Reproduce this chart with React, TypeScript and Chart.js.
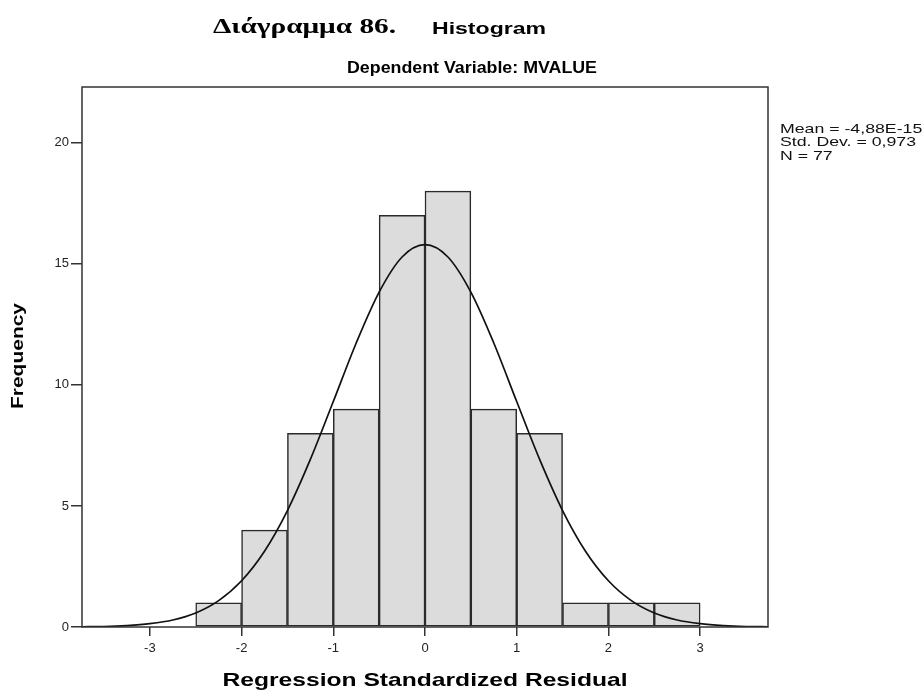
import React, { useEffect, useRef } from "react";
import { Chart, registerables } from "chart.js";

Chart.register(...registerables);

const binCenters = [-2.25, -1.75, -1.25, -0.75, -0.25, 0.25, 0.75, 1.25, 1.75, 2.25, 2.75];
const frequencies = [1, 4, 8, 9, 17, 18, 9, 8, 1, 1, 1];
const curveX = [-3.75, -3.5, -3.25, -3, -2.75, -2.5, -2.25, -2, -1.75, -1.5, -1.25, -1, -0.75, -0.5, -0.25, 0, 0.25, 0.5, 0.75, 1, 1.25, 1.5, 1.75, 2, 2.25, 2.5, 2.75, 3, 3.25, 3.5, 3.75];
const curveY = [0.01, 0.02, 0.06, 0.14, 0.29, 0.58, 1.09, 1.91, 3.13, 4.81, 6.92, 9.31, 11.73, 13.83, 15.28, 15.79, 15.28, 13.83, 11.73, 9.31, 6.92, 4.81, 3.13, 1.91, 1.09, 0.58, 0.29, 0.14, 0.06, 0.02, 0.01];
const yTicks = [0, 5, 10, 15, 20];
const xTicks = [-3, -2, -1, 0, 1, 2, 3];
const statsLines = ["Mean = -4,88E-15", "Std. Dev. = 0,973", "N = 77"];
const captionLabel = "Διάγραμμα 86.";
const captionTitle = "Histogram";
const subTitle = "Dependent Variable: MVALUE";
const xTitle = "Regression Standardized Residual";
const yTitle = "Frequency";

const SANS = "'Liberation Sans', Arial, sans-serif";
const SERIF = "'Liberation Serif', 'Times New Roman', serif";

function drawFit(ctx: CanvasRenderingContext2D, text: string, x: number, y: number, font: string, width: number, align: CanvasTextAlign) {
  ctx.save();
  ctx.font = font;
  const w = ctx.measureText(text).width;
  const sx = width / w;
  ctx.translate(x, y);
  ctx.scale(sx, 1);
  ctx.textAlign = align;
  ctx.textBaseline = "middle";
  ctx.fillText(text, 0, 0);
  ctx.restore();
}

export default function App() {
  const ref = useRef<HTMLCanvasElement | null>(null);

  useEffect(() => {
    document.body.style.margin = "0";
    const canvas = ref.current;
    if (!canvas) return;

    const textPlugin = {
      id: "textPlugin",
      afterDraw(chart: any) {
        const ctx = chart.ctx as CanvasRenderingContext2D;
        const a = chart.chartArea;
        ctx.save();
        ctx.strokeStyle = "#333";
        ctx.lineWidth = 1.5;
        ctx.strokeRect(a.left, a.top, a.right - a.left, a.bottom - a.top);

        ctx.fillStyle = "#000";
        drawFit(ctx, captionLabel, 213, 28, `bold 21px ${SERIF}`, 183, "left");
        drawFit(ctx, captionTitle, 432, 29, `bold 17px ${SANS}`, 114, "left");
        drawFit(ctx, subTitle, 347, 68, `bold 17px ${SANS}`, 250, "left");
        drawFit(ctx, xTitle, (a.left + a.right) / 2, 681, `bold 19px ${SANS}`, 405, "center");

        ctx.save();
        ctx.translate(18, 356);
        ctx.rotate(-Math.PI / 2);
        drawFit(ctx, yTitle, 0, 0, `bold 17px ${SANS}`, 106, "center");
        ctx.restore();

        ctx.fillStyle = "#111";
        ctx.font = `13px ${SANS}`;
        const sx = 136 / ctx.measureText(statsLines[1]).width;
        statsLines.forEach((s, i) => {
          ctx.save();
          ctx.font = `13px ${SANS}`;
          ctx.translate(780, 129 + i * 13.5);
          ctx.scale(sx, 1);
          ctx.textAlign = "left";
          ctx.textBaseline = "middle";
          ctx.fillText(s, 0, 0);
          ctx.restore();
        });
        ctx.restore();
      },
    };

    const chart = new Chart(canvas, {
      type: "bar",
      data: {
        datasets: [
          {
            type: "bar",
            data: binCenters.map((x, i) => ({ x, y: frequencies[i] })),
            backgroundColor: "#dcdcdc",
            borderColor: "#2a2a2a",
            borderWidth: 1.5,
            borderSkipped: false,
            barPercentage: 1,
            categoryPercentage: 1,
            order: 1,
          } as any,
          {
            type: "line",
            data: curveX.map((x, i) => ({ x, y: curveY[i] })),
            borderColor: "#111",
            borderWidth: 1.7,
            pointRadius: 0,
            cubicInterpolationMode: "monotone",
            fill: false,
            order: 0,
          } as any,
        ],
      },
      options: {
        responsive: false,
        animation: false,
        layout: { padding: { top: 87, right: 155, left: 0, bottom: 0 } },
        plugins: { legend: { display: false }, tooltip: { enabled: false } },
        scales: {
          x: {
            type: "linear",
            min: -3.74,
            max: 3.74,
            offset: false,
            afterBuildTicks: (s: any) => {
              s.ticks = xTicks.map((v) => ({ value: v }));
            },
            afterFit: (s: any) => {
              s.height = 66;
            },
            grid: { drawOnChartArea: false, drawTicks: true, tickLength: 9, color: "#333", offset: false, lineWidth: 1.5 },
            border: { display: false },
            ticks: { autoSkip: false, maxRotation: 0, color: "#222", font: { family: SANS, size: 13 }, padding: 5, callback: (v: any) => String(v) },
          },
          y: {
            type: "linear",
            min: 0,
            max: 22.3,
            afterBuildTicks: (s: any) => {
              s.ticks = yTicks.map((v) => ({ value: v }));
            },
            afterFit: (s: any) => {
              s.width = 82;
            },
            grid: { drawOnChartArea: false, drawTicks: true, tickLength: 11, color: "#333", lineWidth: 1.5 },
            border: { display: false },
            ticks: { autoSkip: false, color: "#222", font: { family: SANS, size: 13 }, padding: 2, callback: (v: any) => String(v) },
          },
        },
      } as any,
      plugins: [textPlugin],
    });

    return () => chart.destroy();
  }, []);

  return (
    <div style={{ width: 923, height: 693, background: "#fff" }}>
      <canvas ref={ref} width={923} height={693} style={{ width: 923, height: 693, display: "block" }} />
    </div>
  );
}
